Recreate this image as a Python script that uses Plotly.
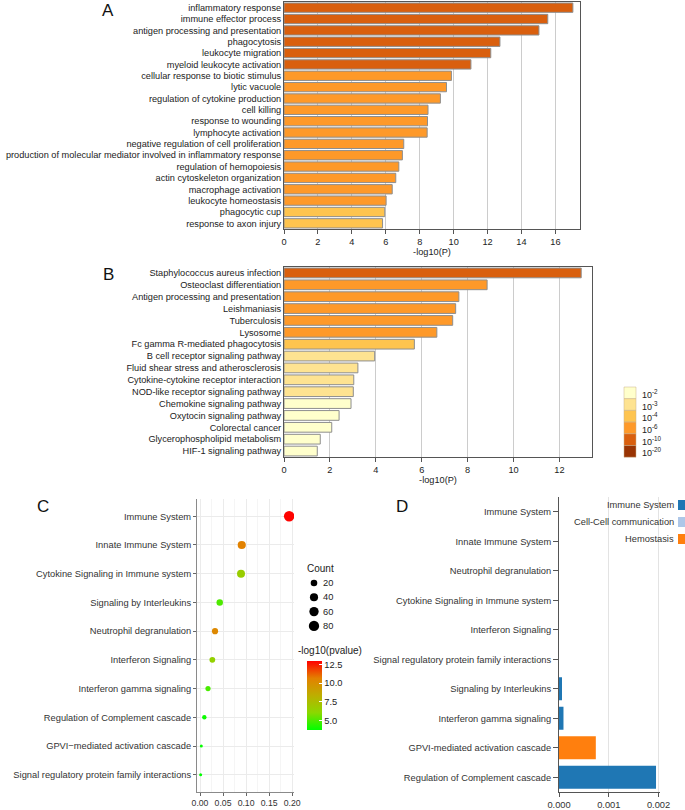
import plotly.graph_objects as go

W, H = 685, 810
def px(x): return x / W
def py(y): return 1 - y / H

# ---------------- Panel A data ----------------
a_terms = ["inflammatory response", "immune effector process", "antigen processing and presentation",
           "phagocytosis", "leukocyte migration", "myeloid leukocyte activation",
           "cellular response to biotic stimulus", "lytic vacuole", "regulation of cytokine production",
           "cell killing", "response to wounding", "lymphocyte activation",
           "negative regulation of cell proliferation",
           "production of molecular mediator involved in inflammatory response",
           "regulation of hemopoiesis", "actin cytoskeleton organization", "macrophage activation",
           "leukocyte homeostasis", "phagocytic cup", "response to axon injury"]
a_vals = [17.03, 15.55, 15.03, 12.73, 12.19, 11.02, 9.87, 9.58, 9.22, 8.49, 8.46, 8.44,
          7.06, 6.98, 6.77, 6.59, 6.38, 6.02, 5.94, 5.81]

# ---------------- Panel B data ----------------
b_terms = ["Staphylococcus aureus infection", "Osteoclast differentiation",
           "Antigen processing and presentation", "Leishmaniasis", "Tuberculosis", "Lysosome",
           "Fc gamma R-mediated phagocytosis", "B cell receptor signaling pathway",
           "Fluid shear stress and atherosclerosis", "Cytokine-cytokine receptor interaction",
           "NOD-like receptor signaling pathway", "Chemokine signaling pathway",
           "Oxytocin signaling pathway", "Colorectal cancer", "Glycerophospholipid metabolism",
           "HIF-1 signaling pathway"]
b_vals = [12.95, 8.85, 7.62, 7.48, 7.35, 6.66, 5.68, 3.95, 3.22, 3.04, 3.02, 2.92,
          2.40, 2.08, 1.58, 1.45]

# legend bins (p-value thresholds)
p_labels = ["10<sup>-2</sup>", "10<sup>-3</sup>", "10<sup>-4</sup>", "10<sup>-6</sup>",
            "10<sup>-10</sup>", "10<sup>-20</sup>"]
p_thresh = [2, 3, 4, 6, 10, 20]
p_colors = ["#FFFFCC", "#FEE391", "#FEC44F", "#FE9929", "#D95F0E", "#993404"]

# ---------------- Panel C data ----------------
c_terms = ["Immune System", "Innate Immune System", "Cytokine Signaling in Immune system",
           "Signaling by Interleukins", "Neutrophil degranulation", "Interferon Signaling",
           "Interferon gamma signaling", "Regulation of Complement cascade",
           "GPVI\u2212mediated activation cascade", "Signal regulatory protein family interactions"]
c_ratio = [0.1935, 0.0906, 0.089, 0.0428, 0.0326, 0.0268, 0.0174, 0.0094, 0.0029, 0.0014]
c_count = [84, 40, 38, 19, 16, 12, 8, 4, 1, 1]
c_logp = [12.9, 10.6, 6.6, 5.0, 10.3, 6.4, 4.9, 3.9, 3.8, 3.7]
count_legend = [20, 40, 60, 80]
cbar_ticks = [5.0, 7.5, 10.0, 12.5]

# ---------------- Panel D data ----------------
d_terms = ["Immune System", "Innate Immune System", "Neutrophil degranulation",
           "Cytokine Signaling in Immune system", "Interferon Signaling",
           "Signal regulatory protein family interactions", "Signaling by Interleukins",
           "Interferon gamma signaling", "GPVI-mediated activation cascade",
           "Regulation of Complement cascade"]
d_vals = [0, 0, 0, 0, 0, 0, 0.00006, 0.00009, 0.00074, 0.00195]
d_group = ["Immune System", "Immune System", "Immune System", "Immune System", "Immune System",
           "Cell-Cell communication", "Immune System", "Immune System", "Hemostasis",
           "Immune System"]
d_groups = ["Immune System", "Cell-Cell communication", "Hemostasis"]
d_group_colors = {"Immune System": "#1F77B4", "Cell-Cell communication": "#AEC7E8",
                  "Hemostasis": "#FF7F0E"}

# ---------------- styles ----------------
SANS = "Liberation Sans, Arial, sans-serif"
AB_FONT = dict(family=SANS, size=9.2, color="#222")
CD_FONT = dict(family=SANS, size=9.3, color="#333")

def pcolor(v):
    col = p_colors[0]
    for t, c in zip(p_thresh, p_colors):
        if v >= t:
            col = c
    return col

def dot_size(c):
    lo, hi = 1, 84
    return 3 + 7.5 * (max(c - lo, 0) / (hi - lo)) ** 0.5

fig = go.Figure()

fig.add_trace(go.Bar(x=a_vals, y=a_terms, orientation="h", xaxis="x", yaxis="y",
                     width=0.82, marker=dict(color=[pcolor(v) for v in a_vals],
                                             line=dict(color="#8E8E8E", width=1)),
                     showlegend=False))
fig.add_trace(go.Bar(x=b_vals, y=b_terms, orientation="h", xaxis="x2", yaxis="y2",
                     width=0.82, marker=dict(color=[pcolor(v) for v in b_vals],
                                             line=dict(color="#8E8E8E", width=1)),
                     showlegend=False))

cscale = [[0, "#00FF00"], [0.25, "#8BD800"], [0.5, "#BDAE00"], [0.75, "#E38100"], [1, "#FF0000"]]
fig.add_trace(go.Scatter(x=c_ratio, y=c_terms, mode="markers", xaxis="x3", yaxis="y3",
                         marker=dict(size=[dot_size(c) for c in c_count], color=c_logp,
                                     colorscale=cscale, cmin=3.7, cmax=12.95, line=dict(width=0),
                                     opacity=1,
                                     colorbar=dict(x=px(307), xanchor="left", y=py(695.5),
                                                   yanchor="middle", len=69, lenmode="pixels",
                                                   thickness=15, outlinewidth=0, xpad=0, ypad=0,
                                                   tickvals=cbar_ticks,
                                                   ticktext=["%.1f" % t for t in cbar_ticks],
                                                   ticks="inside", ticklen=3, tickcolor="white",
                                                   tickfont=dict(family=SANS, size=9.3, color="#222"))),
                         showlegend=False))

fig.add_trace(go.Bar(x=d_vals, y=d_terms, orientation="h", xaxis="x4", yaxis="y4",
                     width=0.78, marker=dict(color=[d_group_colors[g] for g in d_group], line=dict(width=0)),
                     showlegend=False))

ab_x = dict(showgrid=True, gridcolor="#CCCCCC", gridwidth=1.3, zeroline=False, showline=True,
            mirror=True, linecolor="#555555", linewidth=1, ticks="outside", ticklen=4,
            tickcolor="#555555", tickfont=AB_FONT, dtick=2, tick0=0, automargin=False,
            title=dict(text="-log10(P)", font=AB_FONT, standoff=2))
ab_y = dict(showgrid=False, showline=True, mirror=True, linecolor="#555555", linewidth=1,
            ticks="", autorange="reversed", tickfont=AB_FONT, automargin=False,
            tickmode="linear", dtick=1)

layout = dict(
    template="none",
    font=dict(family=SANS, color="#222"),
    width=W, height=H, margin=dict(l=0, r=0, t=0, b=0), paper_bgcolor="white",
    plot_bgcolor="white", showlegend=False,
    xaxis=dict(domain=[px(284), px(580)], range=[0, 17.45], anchor="y", **ab_x),
    yaxis=dict(domain=[py(229), py(2)], anchor="x", **ab_y),
    xaxis2=dict(domain=[px(284), px(592)], range=[0, 13.42], anchor="y2", **ab_x),
    yaxis2=dict(domain=[py(457), py(267)], anchor="x2", **ab_y),
    xaxis3=dict(domain=[px(197), px(294)], range=[-0.0065, 0.204], anchor="y3",
                tickvals=[0, 0.05, 0.10, 0.15, 0.20], ticktext=["0.00", "0.05", "0.10", "0.15", "0.20"],
                showgrid=True, gridcolor="#EBEBEB", gridwidth=1, zeroline=False, showline=True,
                linecolor="#8A8A8A", linewidth=1, automargin=False,
                ticks="outside", ticklen=3, tickcolor="#666",
                minor=dict(tickvals=[0.025, 0.075, 0.125, 0.175], showgrid=True, gridcolor="#F5F5F5",
                           ticks=""),
                tickfont=dict(family=SANS, size=8.7, color="#333")),
    yaxis3=dict(domain=[py(792), py(499)], anchor="x3", autorange=False, range=[9.6, -0.6],
                showgrid=True, gridcolor="#EBEBEB", gridwidth=1, zeroline=False, showline=True,
                linecolor="#8A8A8A", linewidth=1, automargin=False, tickmode="linear", dtick=1,
                ticks="outside", ticklen=3, tickcolor="#666", tickfont=CD_FONT),
    xaxis4=dict(domain=[px(559), px(660)], range=[0, 0.00203], anchor="y4",
                tickvals=[0, 0.001, 0.002], ticktext=["0.000", "0.001", "0.002"],
                showgrid=True, gridcolor="#E3E3E3", gridwidth=1, zeroline=False, showline=True,
                linecolor="#555", linewidth=1, automargin=False,
                ticks="outside", ticklen=4, tickcolor="#555", tickfont=CD_FONT),
    yaxis4=dict(domain=[py(792), py(497)], anchor="x4", autorange="reversed", showgrid=False,
                showline=True, linecolor="#555", linewidth=1, ticks="outside", ticklen=5,
                tickcolor="#555", automargin=False, tickmode="linear", dtick=1, tickfont=CD_FONT),
)
fig.update_layout(**layout)

ann = []
shapes = []
for lab, x, y in [("A", 108, 10), ("B", 108, 275), ("C", 43, 507), ("D", 402, 507)]:
    ann.append(dict(text=lab, x=px(x), y=py(y), xref="paper", yref="paper", showarrow=False,
                    xanchor="center", yanchor="middle", font=dict(family=SANS, size=17, color="#111")))

# p-value legend for A/B
box_h = 11.7
for i, (lab, col) in enumerate(zip(p_labels, p_colors)):
    y0 = 387 + i * box_h
    shapes.append(dict(type="rect", xref="paper", yref="paper", x0=px(624), x1=px(636),
                       y0=py(y0 + box_h), y1=py(y0), fillcolor=col, line=dict(color="#C9B08A", width=0.5)))
    ann.append(dict(text=lab, x=px(640), y=py(y0 + box_h / 2 + 1), xref="paper", yref="paper",
                    showarrow=False, xanchor="left", yanchor="middle",
                    font=dict(family=SANS, size=9, color="#222")))

# Count legend for C
ann.append(dict(text="Count", x=px(305), y=py(568), xref="paper", yref="paper", showarrow=False,
                xanchor="left", yanchor="middle", font=dict(family=SANS, size=10, color="#222")))
for i, c in enumerate(count_legend):
    yc = 583 + i * 14.3
    r = dot_size(c) / 2
    shapes.append(dict(type="circle", xref="paper", yref="paper", x0=px(314 - r), x1=px(314 + r),
                       y0=py(yc + r), y1=py(yc - r), fillcolor="black", line=dict(width=0)))
    ann.append(dict(text=str(c), x=px(321), y=py(yc), xref="paper", yref="paper", showarrow=False,
                    xanchor="left", yanchor="middle", font=dict(family=SANS, size=9.3, color="#222")))
ann.append(dict(text="-log10(pvalue)", x=px(296), y=py(650), xref="paper", yref="paper", showarrow=False,
                xanchor="left", yanchor="middle", font=dict(family=SANS, size=10, color="#222")))

# Group legend for D
for i, g in enumerate(d_groups):
    yc = 505 + i * 17
    ann.append(dict(text=g, x=px(676), y=py(yc), xref="paper", yref="paper", showarrow=False,
                    xanchor="right", yanchor="middle", font=dict(family=SANS, size=9.3, color="#333")))
    shapes.append(dict(type="rect", xref="paper", yref="paper", x0=px(678), x1=px(690),
                       y0=py(yc + 5), y1=py(yc - 5), fillcolor=d_group_colors[g], line=dict(width=0)))

fig.update_layout(annotations=ann, shapes=shapes)
fig.write_html("out.html", config={"displayModeBar": False},
               post_script="document.body.style.margin='0';document.body.style.padding='0';"
                           "document.body.style.overflow='hidden';")
